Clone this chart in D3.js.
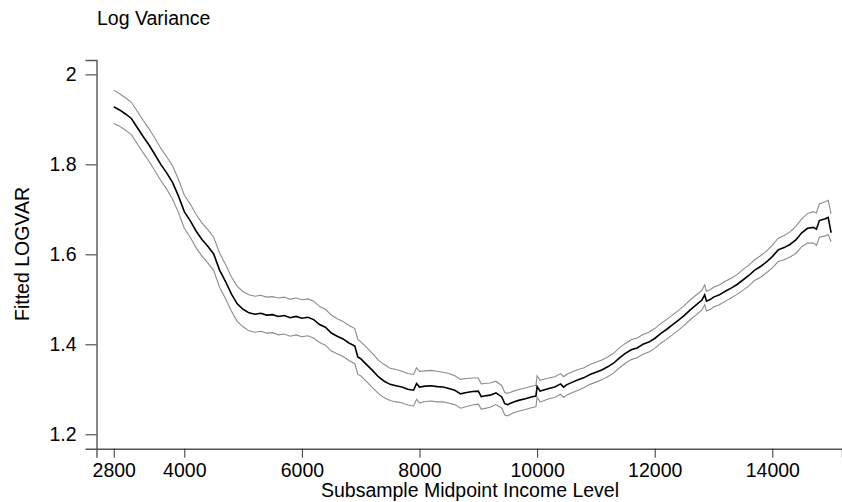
<!DOCTYPE html>
<html>
<head>
<meta charset="utf-8">
<script src="https://cdn.jsdelivr.net/npm/d3@7"></script>
<style>
  html, body { margin: 0; padding: 0; background: #fff; }
  svg { display: block; font-family: "Liberation Sans", Arial, Helvetica, sans-serif; }
</style>
</head>
<body>
<svg id="chart" width="842" height="502"></svg>
<script>
// Subsample midpoint income levels
const income = [
  2800, 2900, 3000, 3100, 3200, 3300, 3400, 3500, 3600, 3700, 3800, 3900,
  4000, 4100, 4200, 4300, 4400, 4500, 4600, 4700, 4800, 4900,
  5000, 5100, 5200, 5300, 5400, 5500, 5600, 5700, 5800, 5900,
  6000, 6100, 6200, 6300, 6400, 6500, 6600, 6700, 6800, 6900, 6950,
  7000, 7100, 7200, 7300, 7400, 7500, 7600, 7700, 7800, 7900, 7950,
  8000, 8100, 8200, 8300, 8400, 8500, 8600, 8700, 8800, 8900,
  9000, 9050, 9100, 9200, 9300, 9400, 9450, 9500, 9600, 9700, 9800, 9900, 9980,
  10000, 10050, 10100, 10200, 10300, 10400, 10450, 10500, 10600, 10700, 10800, 10900,
  11000, 11100, 11200, 11300, 11400, 11500, 11600, 11700, 11800, 11900,
  12000, 12100, 12200, 12300, 12400, 12500, 12600, 12700, 12800, 12850, 12880, 12950,
  13000, 13100, 13200, 13300, 13400, 13500, 13600, 13700, 13800, 13900,
  14000, 14100, 14200, 14300, 14400, 14500, 14600, 14700, 14750, 14800, 14900, 14950, 15000
];

// Fitted log variance
const fitted = [
  1.928, 1.921, 1.912, 1.902, 1.882, 1.862, 1.843, 1.822, 1.800, 1.781, 1.760, 1.730,
  1.695, 1.675, 1.652, 1.633, 1.618, 1.601, 1.565, 1.540, 1.512, 1.490,
  1.478, 1.470, 1.467, 1.469, 1.465, 1.466, 1.462, 1.464, 1.459, 1.462,
  1.458, 1.460, 1.455, 1.444, 1.438, 1.425, 1.418, 1.412, 1.403, 1.396, 1.372,
  1.368, 1.355, 1.342, 1.328, 1.318, 1.311, 1.308, 1.305, 1.300, 1.298, 1.313,
  1.305, 1.307, 1.308, 1.306, 1.305, 1.302, 1.298, 1.290, 1.293, 1.295,
  1.296, 1.284, 1.285, 1.287, 1.292, 1.283, 1.268, 1.266, 1.272, 1.276, 1.279, 1.283, 1.285,
  1.306, 1.296, 1.298, 1.302, 1.305, 1.312, 1.305, 1.310, 1.316, 1.321, 1.326, 1.333,
  1.338, 1.343, 1.350, 1.358, 1.370, 1.380, 1.388, 1.392, 1.400, 1.405,
  1.413, 1.424, 1.433, 1.443, 1.453, 1.464, 1.476, 1.487, 1.498, 1.510, 1.496, 1.500,
  1.505, 1.510, 1.518, 1.525, 1.533, 1.543, 1.553, 1.565, 1.573, 1.583,
  1.595, 1.610, 1.615, 1.622, 1.632, 1.648, 1.658, 1.660, 1.656, 1.675, 1.679, 1.682, 1.648
];

// Upper confidence bound
const upper = [
  1.965, 1.957, 1.948, 1.938, 1.918, 1.898, 1.879, 1.858, 1.836, 1.817, 1.797, 1.767,
  1.732, 1.712, 1.689, 1.670, 1.655, 1.638, 1.603, 1.578, 1.550, 1.529,
  1.517, 1.510, 1.507, 1.509, 1.505, 1.506, 1.503, 1.505, 1.500, 1.503,
  1.499, 1.501, 1.496, 1.484, 1.478, 1.465, 1.457, 1.451, 1.442, 1.435, 1.411,
  1.406, 1.393, 1.380, 1.365, 1.355, 1.347, 1.344, 1.340, 1.335, 1.333, 1.348,
  1.340, 1.341, 1.342, 1.340, 1.338, 1.335, 1.330, 1.322, 1.324, 1.325,
  1.325, 1.312, 1.313, 1.314, 1.318, 1.308, 1.293, 1.291, 1.296, 1.300, 1.303, 1.307, 1.309,
  1.330, 1.320, 1.322, 1.325, 1.328, 1.335, 1.328, 1.333, 1.339, 1.344, 1.348, 1.355,
  1.360, 1.365, 1.372, 1.380, 1.392, 1.402, 1.410, 1.414, 1.422, 1.427,
  1.435, 1.446, 1.455, 1.465, 1.475, 1.486, 1.498, 1.509, 1.520, 1.532, 1.518, 1.522,
  1.527, 1.532, 1.540, 1.547, 1.555, 1.566, 1.576, 1.588, 1.597, 1.607,
  1.620, 1.636, 1.642, 1.650, 1.662, 1.679, 1.691, 1.695, 1.692, 1.712, 1.717, 1.720, 1.690
];

// Lower confidence bound
const lower = [
  1.891, 1.885, 1.876, 1.866, 1.846, 1.826, 1.807, 1.786, 1.764, 1.745, 1.723, 1.693,
  1.658, 1.638, 1.615, 1.596, 1.581, 1.564, 1.527, 1.502, 1.474, 1.451,
  1.439, 1.430, 1.427, 1.429, 1.425, 1.426, 1.421, 1.423, 1.418, 1.421,
  1.417, 1.419, 1.414, 1.404, 1.398, 1.385, 1.379, 1.373, 1.364, 1.357, 1.333,
  1.330, 1.317, 1.304, 1.291, 1.281, 1.275, 1.272, 1.270, 1.265, 1.263, 1.278,
  1.270, 1.273, 1.274, 1.272, 1.272, 1.269, 1.266, 1.258, 1.262, 1.265,
  1.267, 1.256, 1.257, 1.260, 1.266, 1.258, 1.243, 1.241, 1.248, 1.252, 1.255, 1.259, 1.261,
  1.282, 1.272, 1.274, 1.279, 1.282, 1.289, 1.282, 1.287, 1.293, 1.298, 1.304, 1.311,
  1.316, 1.321, 1.328, 1.336, 1.348, 1.358, 1.366, 1.370, 1.378, 1.383,
  1.391, 1.402, 1.411, 1.421, 1.431, 1.442, 1.454, 1.465, 1.476, 1.488, 1.474, 1.478,
  1.483, 1.488, 1.496, 1.503, 1.511, 1.520, 1.530, 1.542, 1.549, 1.559,
  1.570, 1.584, 1.588, 1.594, 1.602, 1.617, 1.625, 1.625, 1.620, 1.638, 1.641, 1.644, 1.628
];

const xTicks = [2800, 4000, 6000, 8000, 10000, 12000, 14000];
const yTicks = [1.2, 1.4, 1.6, 1.8, 2];

const svg = d3.select("#chart");
const FONT = 19.5;

const x = d3.scaleLinear().domain([2507, 15185]).range([96.5, 842]);
const y = d3.scaleLinear().domain([1.168, 2.032]).range([448.7, 60]);

// Axes
const xAxis = svg.append("g")
  .attr("transform", "translate(0,448.7)")
  .call(d3.axisBottom(x).tickValues(xTicks).tickSizeOuter(0).tickSize(9).tickPadding(5)
        .tickFormat(d3.format("d")));
const yAxis = svg.append("g")
  .attr("transform", "translate(96.5,0)")
  .call(d3.axisLeft(y).tickValues(yTicks).tickSizeOuter(0).tickSize(11).tickPadding(9)
        .tickFormat(d => String(d)));

[xAxis, yAxis].forEach(g => {
  g.select(".domain").attr("stroke", "#555").attr("stroke-width", 1.4);
  g.selectAll(".tick line").attr("stroke", "#333").attr("stroke-width", 1);
  g.selectAll(".tick text")
    .attr("fill", "#000")
    .style("font-size", FONT + "px")
    .style("font-family", "'Liberation Sans', Arial, Helvetica, sans-serif");
});

// Series
const pts = income.map((v, i) => ({ x: v, f: fitted[i], u: upper[i], l: lower[i] }));
const line = key => d3.line().x(d => x(d.x)).y(d => y(d[key]));

svg.append("path").datum(pts)
  .attr("d", line("u")).attr("fill", "none")
  .attr("stroke", "#8c8c8c").attr("stroke-width", 1.1);
svg.append("path").datum(pts)
  .attr("d", line("l")).attr("fill", "none")
  .attr("stroke", "#8c8c8c").attr("stroke-width", 1.1);
svg.append("path").datum(pts)
  .attr("d", line("f")).attr("fill", "none")
  .attr("stroke", "#000").attr("stroke-width", 1.6);

// Titles
svg.append("text")
  .attr("x", 97).attr("y", 24.5)
  .style("font-size", FONT + "px")
  .text("Log Variance");

svg.append("text")
  .attr("x", 470).attr("y", 497)
  .attr("text-anchor", "middle")
  .style("font-size", FONT + "px")
  .text("Subsample Midpoint Income Level");

svg.append("text")
  .attr("transform", "translate(28.5,254) rotate(-90)")
  .attr("text-anchor", "middle")
  .style("font-size", FONT + "px")
  .text("Fitted LOGVAR");
</script>
</body>
</html>
